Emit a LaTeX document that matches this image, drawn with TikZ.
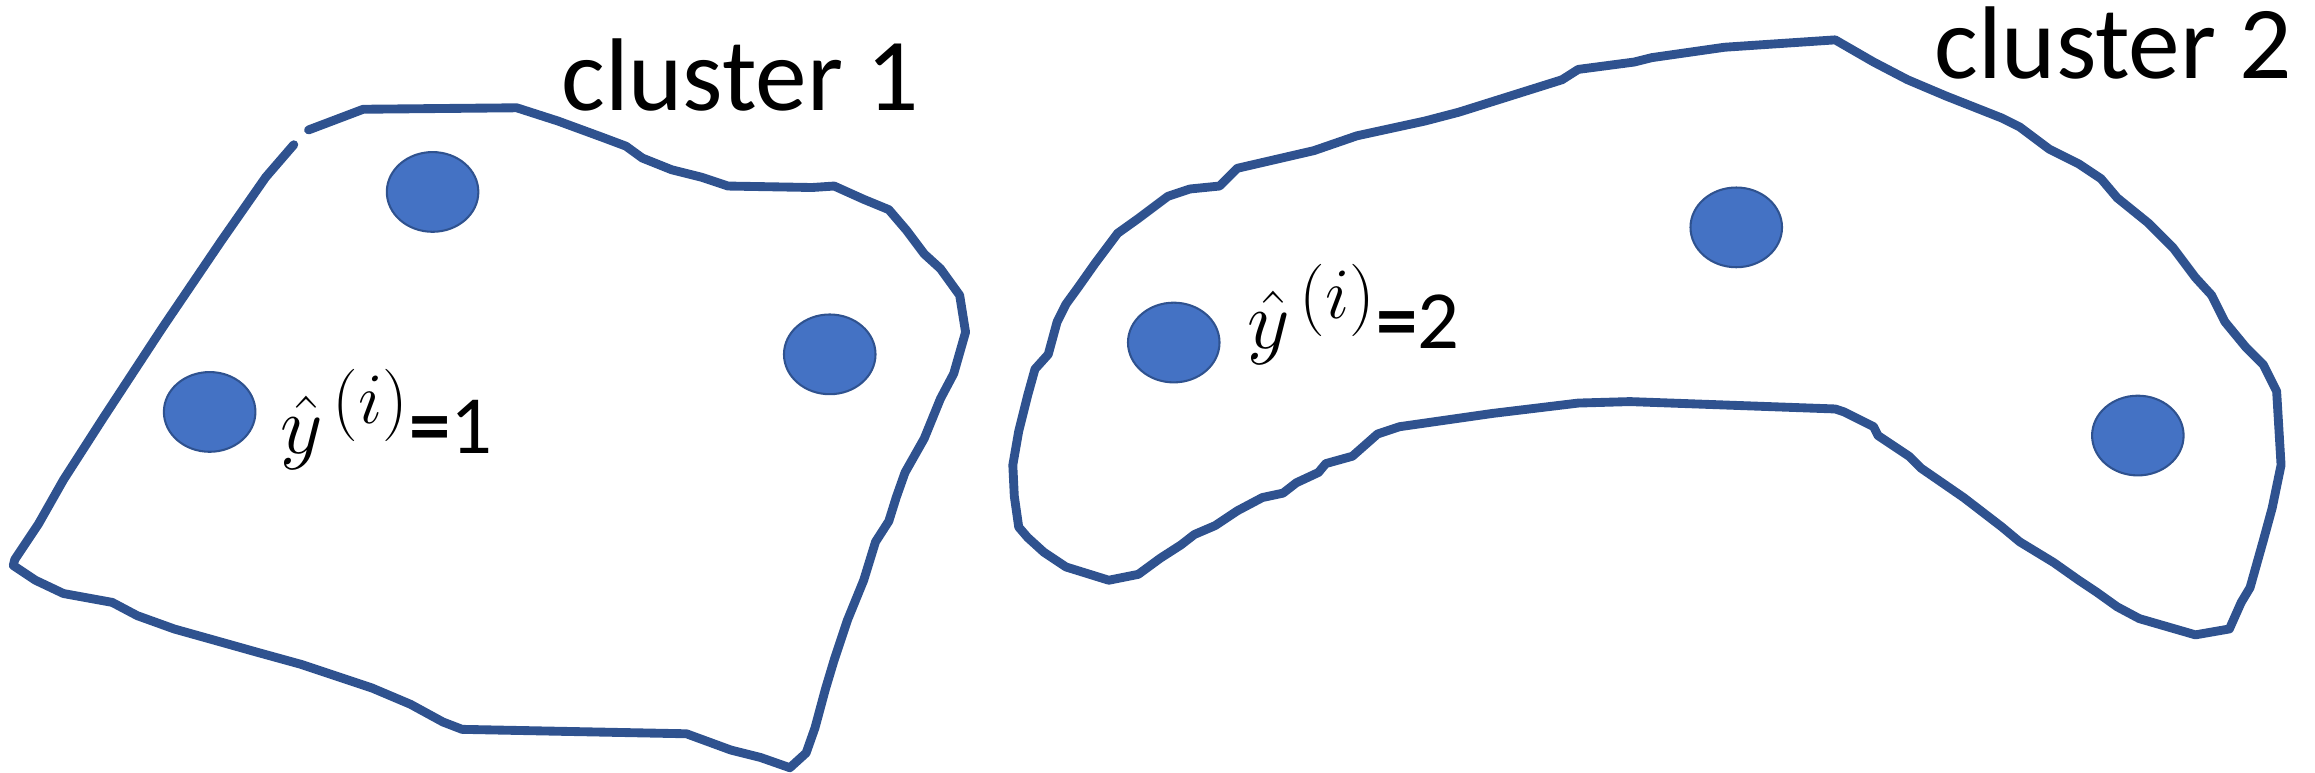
\RequirePackage{fix-cm}
\documentclass[tikz,border=0pt]{standalone}
\usepackage{fontspec}
\usepackage{graphicx}
\setmainfont{Carlito}
\usetikzlibrary{shapes.geometric}
\definecolor{dotblue}{HTML}{4472C4}
\definecolor{edgeblue}{HTML}{2F528F}
\newcommand{\yhat}{$\hat{y}^{\,\scalebox{1.25}{$\scriptstyle(i)$}}$}

\begin{document}
\begin{tikzpicture}[x=1pt,y=-1pt,
    hull/.style={draw=edgeblue, line width=6pt, line join=round, line cap=round},
    point/.style={ellipse, fill=dotblue, draw=edgeblue, line width=1.4pt,
        minimum width=62pt, minimum height=54pt, inner sep=0pt},
    title/.style={font=\fontsize{70}{82}\selectfont, inner sep=0pt, anchor=base west},
    pred/.style={font=\fontsize{56}{66}\selectfont, inner sep=0pt, anchor=base west}
]
    \useasboundingbox (0,0) rectangle (1568,523);

    % cluster 1
    \draw[hull] (209,88) -- (246,74) -- (350,73) -- (378,82) -- (408,93) -- (424,99)
        -- (435,107) -- (455,115) -- (475,120) -- (493,126) -- (550,127) -- (565,126)
        -- (585,135) -- (602,142) -- (614,156) -- (626,172) -- (637,182) -- (650,200)
        -- (654,225) -- (646,253) -- (637,270) -- (626,297) -- (613,320) -- (607,337)
        -- (602,353) -- (593,367) -- (585,393) -- (574,420) -- (565,447) -- (559,467)
        -- (552,493) -- (546,510) -- (535,520) -- (515,513) -- (495,508) -- (465,497)
        -- (313,494) -- (300,489) -- (278,477) -- (252,466) -- (204,450) -- (175,442)
        -- (143,433) -- (118,426) -- (93,417) -- (76,408) -- (43,402) -- (24,393)
        -- (9,383) -- (10,379) -- (26,355) -- (43,325) -- (70,283) -- (110,222)
        -- (150,163) -- (180,120) -- (199,98);

    % cluster 2
    \draw[hull] (1243,27) -- (1269,42) -- (1292,54) -- (1318,65) -- (1356,80) -- (1368,86)
        -- (1388,101) -- (1408,111) -- (1423,121) -- (1434,134) -- (1455,151) -- (1472,168)
        -- (1487,188) -- (1498,200) -- (1507,218) -- (1521,235) -- (1533,247) -- (1542,265)
        -- (1545,315) -- (1539,344) -- (1533,366) -- (1524,398) -- (1518,408) -- (1510,426)
        -- (1487,430) -- (1449,419) -- (1434,411) -- (1420,401) -- (1408,393) -- (1391,381)
        -- (1368,367) -- (1356,357) -- (1330,337) -- (1301,317) -- (1293,309) -- (1272,295)
        -- (1269,289) -- (1249,279) -- (1243,277) -- (1104,272) -- (1069,273) -- (1011,280)
        -- (948,289) -- (933,294) -- (916,309) -- (898,314) -- (893,320) -- (878,327)
        -- (869,334) -- (855,337) -- (838,346) -- (823,356) -- (809,362) -- (800,369)
        -- (786,378) -- (771,389) -- (751,393) -- (722,384) -- (707,374) -- (696,364)
        -- (690,357) -- (687,336) -- (686,315) -- (690,292) -- (696,268) -- (701,250)
        -- (710,240) -- (716,218) -- (722,206) -- (730,195) -- (742,178) -- (757,158)
        -- (771,148) -- (791,133) -- (806,128) -- (826,126) -- (838,114) -- (890,102)
        -- (919,92) -- (965,82) -- (988,76) -- (1023,65) -- (1058,54) -- (1069,47)
        -- (1107,42) -- (1119,39) -- (1168,32) -- cycle;

    % points
    \node[point] (a1) at (293,130) {};
    \node[point] (a2) at (562,240) {};
    \node[point] (a3) at (142,279) {};
    \node[point] (b1) at (795,232) {};
    \node[point] (b2) at (1176,154) {};
    \node[point] (b3) at (1448,295) {};

    % labels
    \node[title] (name1) at (380,75) {cluster 1};
    \node[title] (name2) at (1310,53) {cluster 2};
    \node[pred] (pred1) at (190,307) {\yhat\textbf{=}1};
    \node[pred] (pred2) at (845,236) {\yhat\textbf{=}2};
\end{tikzpicture}
\end{document}
